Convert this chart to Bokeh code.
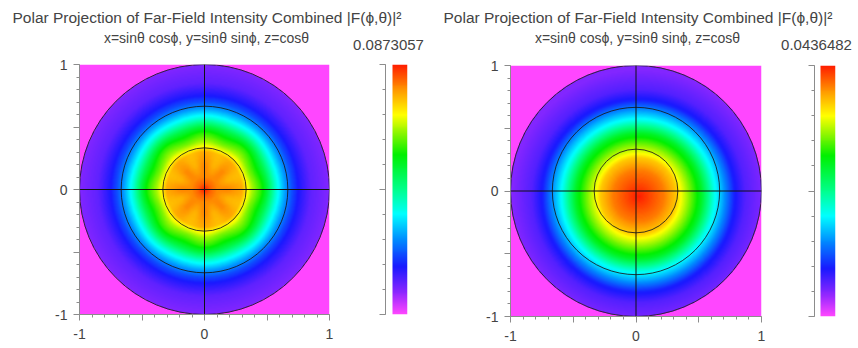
import numpy as np
from bokeh.plotting import figure
from bokeh.models import (Range1d, LinearColorMapper, Span, Label, FixedTicker)
from bokeh.layouts import row, column
from bokeh.embed import file_html
from bokeh.resources import INLINE

# ---------------- data ----------------
title_text = "Polar Projection of Far-Field Intensity Combined |F(\u03d5,\u03b8)|\u00b2"
subtitle_text = "x=sin\u03b8 cos\u03d5, y=sin\u03b8 sin\u03d5, z=cos\u03b8"

vmax_left = 0.0873057
vmax_right = 0.0436482
vmin_label = "0.0"

# radial intensity profile (fraction of max) sampled along the radius
r_left = [0.0, 0.05, 0.10, 0.20, 0.30, 0.333, 0.38, 0.45, 0.50, 0.57, 0.64, 0.70, 0.75, 0.85, 1.0]
prof_left = [1.0, 0.94, 0.91, 0.89, 0.87, 0.81, 0.73, 0.65, 0.57, 0.43, 0.32, 0.24, 0.19, 0.13, 0.10]
# 8-fold ripple amplitude of the left pattern, along the radius
ripple_r = [0.0, 0.10, 0.20, 0.30, 0.45, 0.60, 0.70]
ripple_amp = [0.0, 0.0, 0.018, 0.01, 0.015, 0.005, 0.0]

r_right = [0.0, 0.05, 0.10, 0.20, 0.30, 0.333, 0.40, 0.50, 0.60, 0.667, 0.76, 0.85, 1.0]
prof_right = [1.0, 0.98, 0.96, 0.92, 0.85, 0.80, 0.72, 0.60, 0.42, 0.33, 0.20, 0.14, 0.10]
peak_shift_right = (0.02, -0.04)

ring_radii = [1 / 3, 2 / 3, 1.0]
axis_ticks = [-1, -0.5, 0, 0.5, 1]
axis_labels = {-1: "-1", -0.5: "", 0: "0", 0.5: "", 1: "1"}

# ---------------- styling ----------------
FONT = "Liberation Sans"
TXT = "#444444"
AX = "#8c8c8c"

anchors = [
    (0.00, (255, 70, 255)),
    (0.08, (150, 40, 255)),
    (0.19, (25, 25, 255)),
    (0.30, (0, 140, 255)),
    (0.40, (0, 255, 255)),
    (0.50, (0, 255, 140)),
    (0.64, (0, 240, 0)),
    (0.72, (130, 245, 0)),
    (0.80, (255, 255, 0)),
    (0.90, (255, 150, 0)),
    (1.00, (255, 30, 0)),
]
ap = np.array([a[0] for a in anchors])
ac = np.array([a[1] for a in anchors], dtype=float)
tt = np.linspace(0, 1, 256)
palette = ["#%02x%02x%02x" % tuple(int(round(np.interp(t, ap, ac[:, k]))) for k in range(3)) for t in tt]

N = 250


def field(rs, prof, vmax, shift=(0.0, 0.0), rip_r=None, rip_a=None):
    c = (np.arange(N) + 0.5) / N * 2 - 1
    X, Y = np.meshgrid(c, c)
    R0 = np.hypot(X, Y)
    R = np.hypot(X - shift[0], Y - shift[1])
    F = np.interp(R, rs, prof)
    if rip_r is not None:
        phi = np.arctan2(Y, X)
        F = F + np.interp(R, rip_r, rip_a) * np.cos(8 * phi)
    F = np.where(R0 <= 1.0, F, 0.0) * vmax
    return F


def main_fig(img, vmax, left_border, frame_w, right_border, top_border, frame_h, total_h):
    mapper = LinearColorMapper(palette=palette, low=0, high=vmax)
    p = figure(width=left_border + frame_w + right_border, height=total_h,
               x_range=Range1d(-1, 1), y_range=Range1d(-1, 1),
               output_backend="svg", toolbar_location=None,
               min_border_left=left_border, min_border_right=right_border,
               min_border_top=top_border, min_border_bottom=total_h - top_border - frame_h)
    p.image(image=[img], x=-1, y=-1, dw=2, dh=2, color_mapper=mapper)
    p.circle(x=[0, 0, 0], y=[0, 0, 0], radius=ring_radii, fill_color=None,
             line_color="#1a1a1a", line_alpha=0.85, line_width=1)
    p.add_layout(Span(location=0, dimension="width", line_color="#111111", line_width=1))
    p.add_layout(Span(location=0, dimension="height", line_color="#111111", line_width=1))
    p.grid.visible = False
    p.outline_line_color = None
    minor = [round(v, 2) for v in np.arange(-1, 1.001, 0.1)]
    for ax in (p.xaxis[0], p.yaxis[0]):
        ax.ticker = FixedTicker(ticks=axis_ticks, minor_ticks=minor)
        ax.major_label_overrides = axis_labels
        ax.axis_line_color = AX
        ax.major_tick_line_color = AX
        ax.minor_tick_line_color = AX
        ax.major_tick_out = 6
        ax.major_tick_in = 0
        ax.minor_tick_out = 3
        ax.minor_tick_in = 0
        ax.major_label_text_font = FONT
        ax.major_label_text_font_size = "14px"
        ax.major_label_text_color = TXT
    p.xaxis.major_label_standoff = 8
    p.yaxis.major_label_standoff = 6
    p.yaxis.major_label_orientation = "horizontal"
    return p


def cbar_fig(vmax, width, left_border, frame_w, right_border, top_border, frame_h, total_h):
    mapper = LinearColorMapper(palette=palette, low=0, high=vmax)
    p = figure(width=width, height=total_h,
               x_range=Range1d(0, frame_w), y_range=Range1d(0, vmax),
               output_backend="svg", toolbar_location=None,
               min_border_left=left_border, min_border_right=right_border,
               min_border_top=top_border, min_border_bottom=total_h - top_border - frame_h)
    grad = np.linspace(0, vmax, 256).reshape(256, 1)
    p.image(image=[grad], x=frame_w - 15, y=0, dw=15, dh=vmax, color_mapper=mapper)
    p.grid.visible = False
    p.outline_line_color = None
    p.xaxis.visible = False
    ax = p.yaxis[0]
    ax.ticker = FixedTicker(ticks=[0, vmax / 2, vmax],
                            minor_ticks=[vmax * k / 10 for k in range(11)])
    ax.major_label_overrides = {0: "", vmax / 2: "", vmax: ""}
    ax.major_label_text_font_size = "1px"
    ax.axis_line_color = AX
    ax.major_tick_line_color = AX
    ax.minor_tick_line_color = AX
    ax.major_tick_out = 6
    ax.major_tick_in = 0
    ax.minor_tick_out = 3
    ax.minor_tick_in = 0
    px = vmax / frame_h
    p.add_layout(Label(x=frame_w - 7.5, y=-10 * px, text=vmin_label, text_align="center",
                       text_baseline="middle", text_font=FONT, text_font_size="15px",
                       text_color=TXT))
    return p


def title_fig(width, height, title_x, sub_cx, max_cx, max_text):
    p = figure(width=width, height=height, x_range=Range1d(0, width), y_range=Range1d(height, 0),
               output_backend="svg", toolbar_location=None,
               min_border_left=0, min_border_right=0, min_border_top=0, min_border_bottom=0,
               x_axis_type=None, y_axis_type=None)
    p.grid.visible = False
    p.outline_line_color = None
    p.add_layout(Label(x=title_x, y=17, text=title_text, text_align="left", text_baseline="middle",
                       text_font=FONT, text_font_size="15.5px", text_color=TXT))
    p.add_layout(Label(x=sub_cx, y=37, text=subtitle_text, text_align="center",
                       text_baseline="middle", text_font=FONT, text_font_size="14px",
                       text_color=TXT))
    p.add_layout(Label(x=max_cx, y=44, text=max_text, text_align="center",
                       text_baseline="middle", text_font=FONT, text_font_size="15px",
                       text_color=TXT))
    return p


img_left = field(r_left, prof_left, vmax_left, rip_r=ripple_r, rip_a=ripple_amp)
img_right = field(r_right, prof_right, vmax_right, shift=peak_shift_right)

TH = 52
RH = 296

tl = title_fig(436, TH, 12, 206, 388, "%g" % vmax_left)
ml = main_fig(img_left, vmax_left, 79, 250, 19, 12, 250, RH)
cl = cbar_fig(vmax_left, 88, 37, 22, 29, 6, 266, RH)

tr = title_fig(420, TH, 7, 201, 380, "%g" % vmax_right)
mr = main_fig(img_right, vmax_right, 74, 251, 15, 13, 251, RH)
cr = cbar_fig(vmax_right, 80, 38, 21, 21, 6, 267, RH)

layout = row(column(tl, row(ml, cl)), column(tr, row(mr, cr)))

open("out.html", "w").write(file_html(layout, INLINE))
